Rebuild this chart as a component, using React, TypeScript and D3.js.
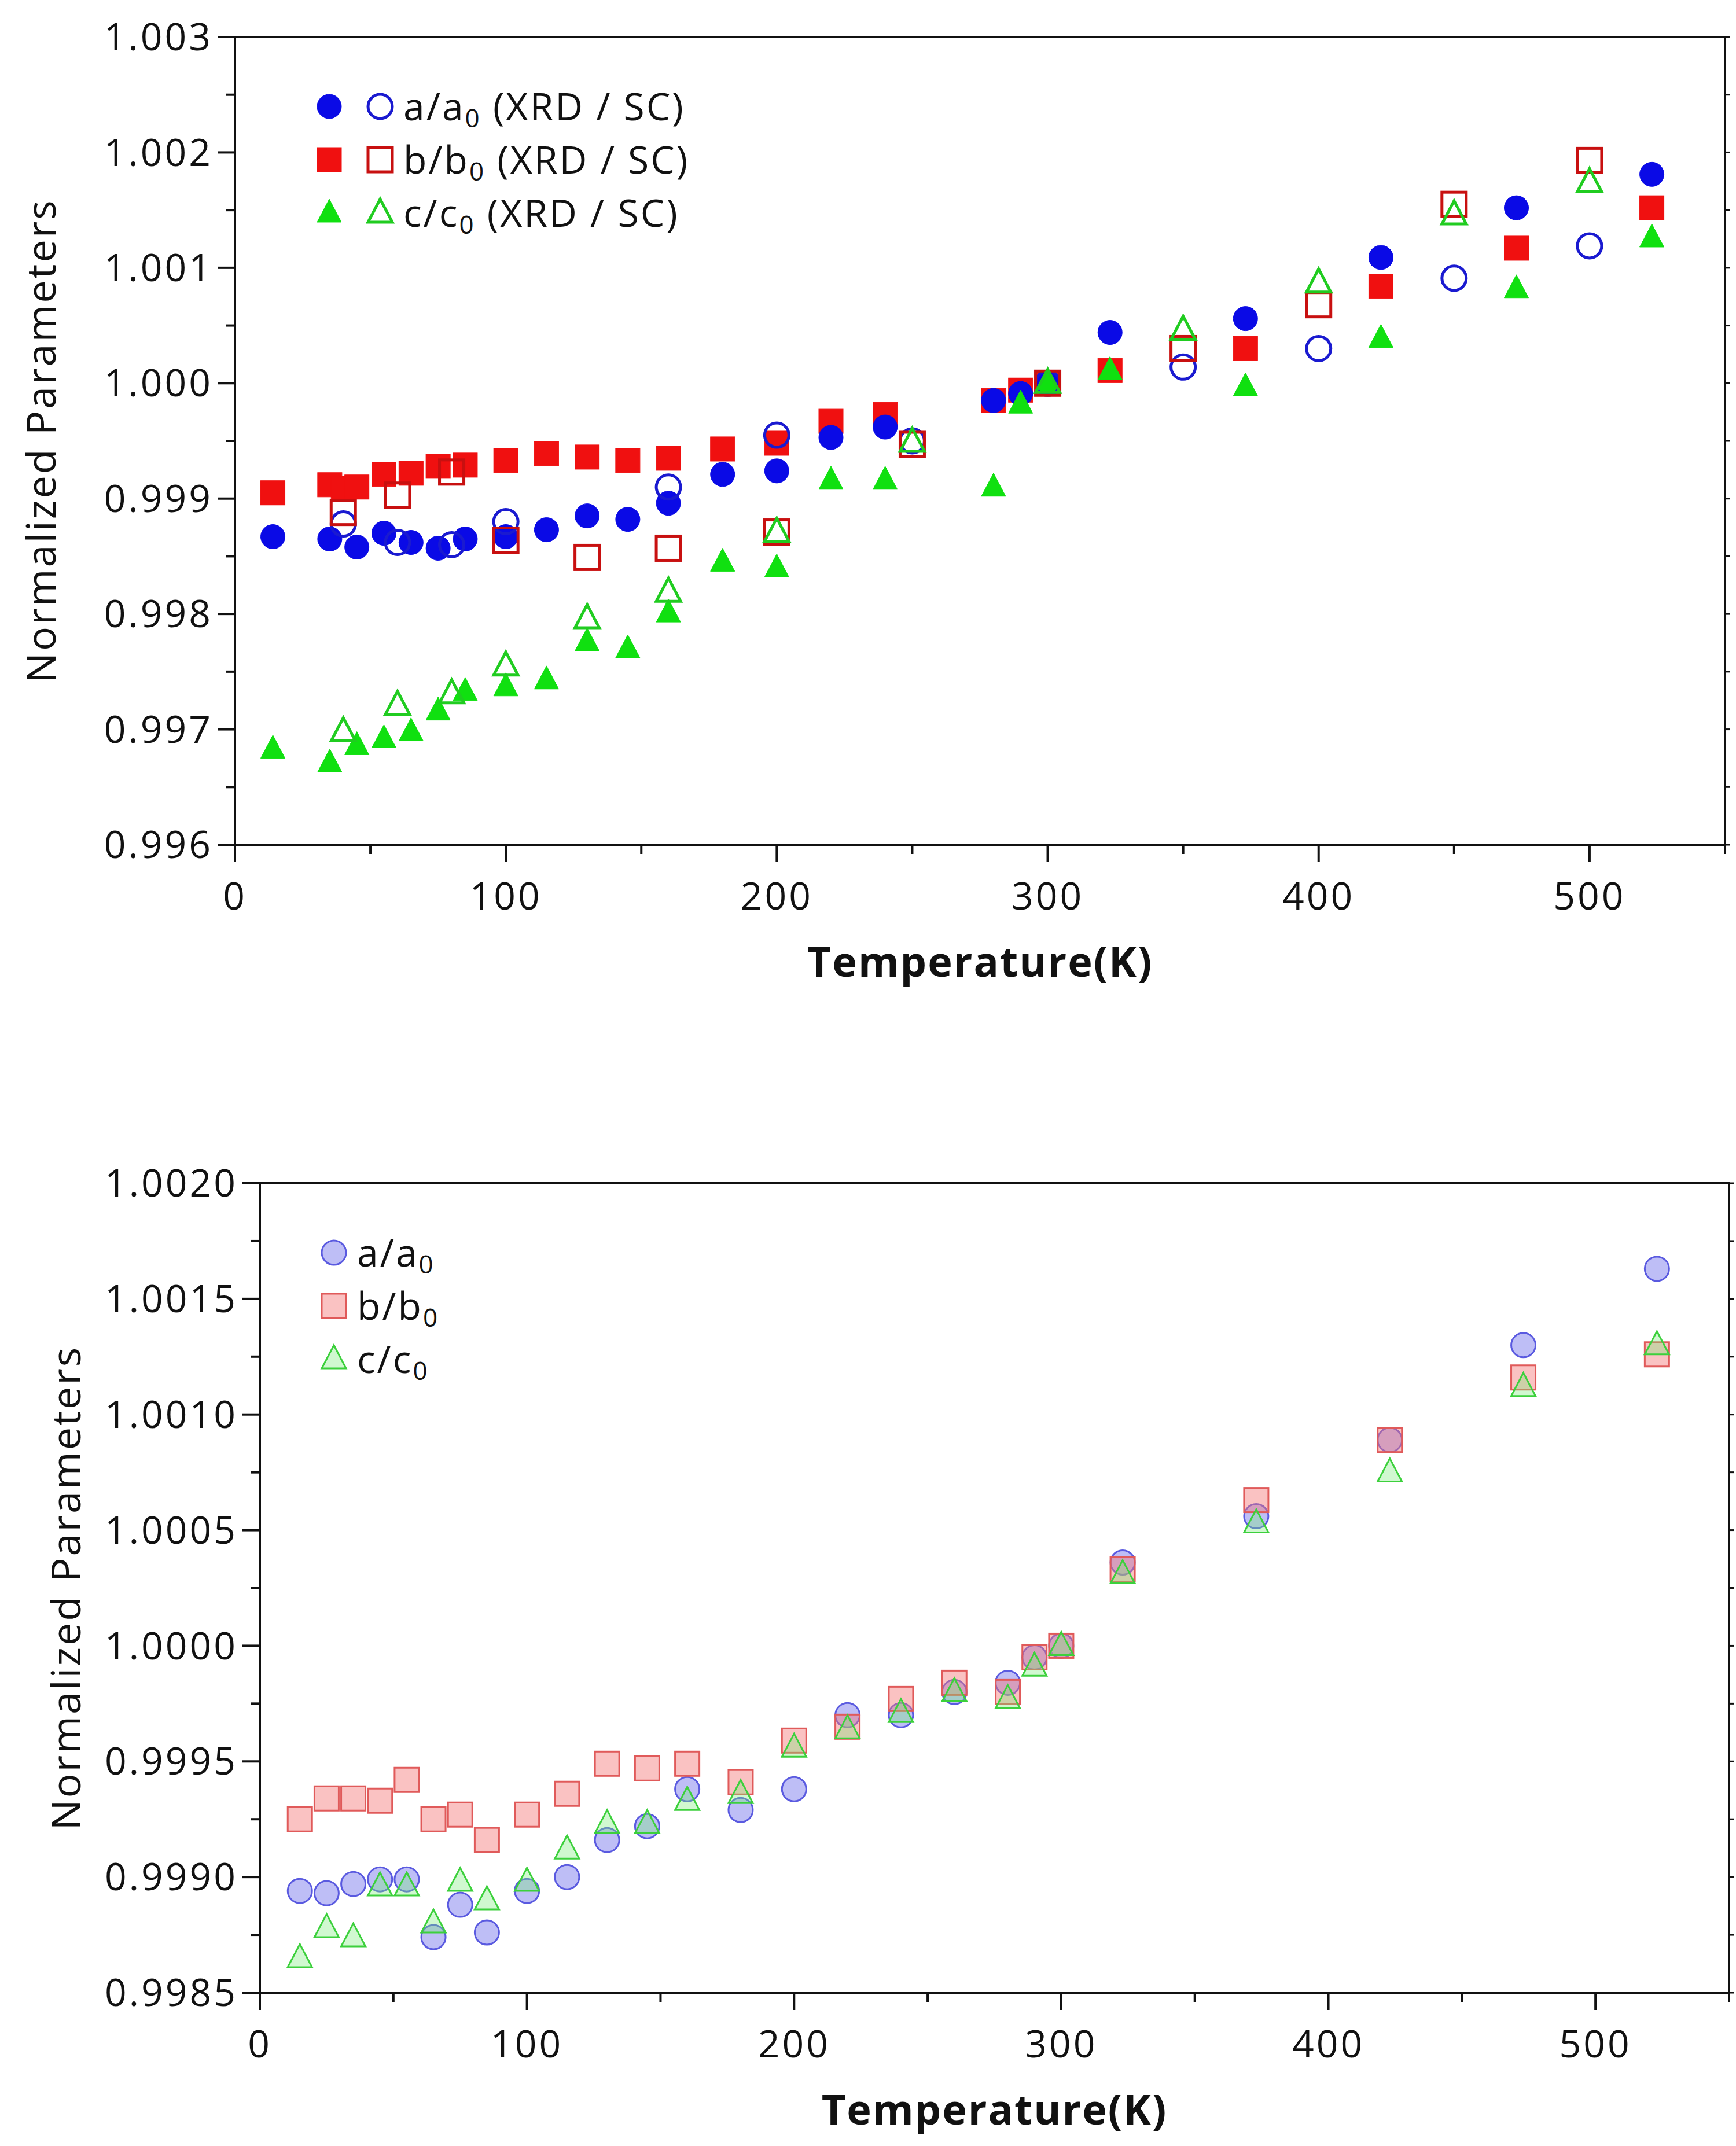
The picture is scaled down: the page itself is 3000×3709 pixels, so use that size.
import * as d3 from "d3";

// top panel: T (K) and normalized values; XRD = filled, SC = open
const aXrdT = [14, 35, 45, 55, 65, 75, 85, 100, 115, 130, 145, 160, 180, 200, 220, 240, 280, 290, 300, 323, 373, 423, 473, 523];
const aXrdV = [0.99867, 0.99865, 0.99858, 0.9987, 0.99862, 0.99857, 0.99865, 0.99867, 0.99873, 0.99885, 0.99882, 0.99896, 0.99921, 0.99924, 0.99953, 0.99962, 0.99985, 0.99991, 1.0, 1.00044, 1.00056, 1.00109, 1.00152, 1.00181];
const aScT = [40, 60, 80, 100, 160, 200, 250, 300, 350, 400, 450, 500];
const aScV = [0.99878, 0.99862, 0.9986, 0.9988, 0.9991, 0.99955, 0.9995, 1.0, 1.00014, 1.0003, 1.00091, 1.00119];
const bXrdT = [14, 35, 40, 45, 55, 65, 75, 85, 100, 115, 130, 145, 160, 180, 200, 220, 240, 280, 290, 300, 323, 373, 423, 473, 523];
const bXrdV = [0.99905, 0.99912, 0.99909, 0.9991, 0.99921, 0.99922, 0.99928, 0.99929, 0.99933, 0.99939, 0.99936, 0.99933, 0.99935, 0.99943, 0.99948, 0.99967, 0.99973, 0.99985, 0.99994, 1.0, 1.00011, 1.0003, 1.00084, 1.00117, 1.00152];
const bScT = [40, 60, 80, 100, 130, 160, 200, 250, 300, 350, 400, 450, 500];
const bScV = [0.99888, 0.99903, 0.99923, 0.99864, 0.99849, 0.99857, 0.99871, 0.99947, 1.0, 1.0003, 1.00068, 1.00155, 1.00193];
const cXrdT = [14, 35, 45, 55, 65, 75, 85, 100, 115, 130, 145, 160, 180, 200, 220, 240, 280, 290, 300, 323, 373, 423, 473, 523];
const cXrdV = [0.99683, 0.99671, 0.99686, 0.99692, 0.99698, 0.99716, 0.99733, 0.99737, 0.99743, 0.99776, 0.9977, 0.99801, 0.99845, 0.9984, 0.99916, 0.99916, 0.9991, 0.99982, 1.0, 1.00011, 0.99997, 1.00039, 1.00082, 1.00126];
const cScT = [40, 60, 80, 100, 130, 160, 200, 250, 300, 350, 400, 450, 500];
const cScV = [0.99698, 0.99721, 0.99731, 0.99755, 0.99796, 0.99819, 0.99871, 0.99949, 1.0, 1.00046, 1.00087, 1.00146, 1.00174];

// bottom panel
const lowT = [15, 25, 35, 45, 55, 65, 75, 85, 100, 115, 130, 145, 160, 180, 200, 220, 240, 260, 280, 290, 300, 323, 373, 423, 473, 523];
const lowA = [0.99894, 0.99893, 0.99897, 0.99899, 0.99899, 0.99874, 0.99888, 0.99876, 0.99894, 0.999, 0.99916, 0.99922, 0.99938, 0.99929, 0.99938, 0.9997, 0.9997, 0.9998, 0.99984, 0.99995, 1.0, 1.00036, 1.00056, 1.00089, 1.0013, 1.00163];
const lowB = [0.99925, 0.99934, 0.99934, 0.99933, 0.99942, 0.99925, 0.99927, 0.99916, 0.99927, 0.99936, 0.99949, 0.99947, 0.99949, 0.99941, 0.99959, 0.99965, 0.99977, 0.99984, 0.9998, 0.99995, 1.0, 1.00033, 1.00063, 1.00089, 1.00116, 1.00126];
const lowC = [0.99865, 0.99878, 0.99874, 0.99896, 0.99896, 0.9988, 0.99898, 0.9989, 0.99898, 0.99912, 0.99923, 0.99923, 0.99933, 0.99936, 0.99956, 0.99964, 0.99971, 0.9998, 0.99977, 0.99991, 1.0, 1.00031, 1.00053, 1.00075, 1.00112, 1.0013];

const topYTicks = [0.996, 0.997, 0.998, 0.999, 1.0, 1.001, 1.002, 1.003];
const lowYTicks = [0.9985, 0.999, 0.9995, 1.0, 1.0005, 1.001, 1.0015, 1.002];
const xTicks = [0, 100, 200, 300, 400, 500];

const FONT = "'Open Sans', 'DejaVu Sans', sans-serif";

type Shape = "circle" | "square" | "triangle";
type Style = { shape: Shape; fill: string; stroke: string; sw: number };

function Marker({ x, y, s, size }: { x: number; y: number; s: Style; size: number }) {
  const r = size / 2;
  if (s.shape === "circle")
    return <circle cx={x} cy={y} r={r} fill={s.fill} stroke={s.stroke} strokeWidth={s.sw} />;
  if (s.shape === "square")
    return <rect x={x - r} y={y - r} width={size} height={size} fill={s.fill} stroke={s.stroke} strokeWidth={s.sw} />;
  const h = size * 0.95;
  return (
    <path
      d={`M${x},${y - h * 0.6}L${x + r},${y + h * 0.4}L${x - r},${y + h * 0.4}Z`}
      fill={s.fill}
      stroke={s.stroke}
      strokeWidth={s.sw}
    />
  );
}

type Series = { t: number[]; v: number[]; style: Style };

function Panel({
  left, right, top, bottom, yDomain, yTicks, yFmt, series, legend, legendX,
}: {
  left: number; right: number; top: number; bottom: number;
  yDomain: [number, number]; yTicks: number[]; yFmt: (d: number) => string;
  series: Series[];
  legend: { styles: Style[]; label: string; sub: string; tail: string }[];
  legendX: number;
}) {
  const x = d3.scaleLinear().domain([0, 550]).range([left, right]);
  const y = d3.scaleLinear().domain(yDomain).range([bottom, top]);
  const step = yTicks[1] - yTicks[0];
  const yMinor = d3.range(yTicks.length - 1).map((i) => yTicks[i] + step / 2);
  const xMinor = [50, 150, 250, 350, 450, 550];
  const ms = 42;
  return (
    <g>
      <rect x={left} y={top} width={right - left} height={bottom - top} fill="none" stroke="#111" strokeWidth={4} />
      {yTicks.map((t) => (
        <g key={"y" + t}>
          <line x1={left - 30} x2={left} y1={y(t)} y2={y(t)} stroke="#111" strokeWidth={4} />
          <text x={left - 38} y={y(t)} dy="0.35em" textAnchor="end" fontSize={66} letterSpacing={4} fontFamily={FONT} fill="#111">
            {yFmt(t)}
          </text>
        </g>
      ))}
      {yMinor.map((t) => (
        <line key={"ym" + t} x1={left - 16} x2={left} y1={y(t)} y2={y(t)} stroke="#111" strokeWidth={4} />
      ))}
      {yTicks.concat(yMinor).map((t) => (
        <line key={"yr" + t} x1={right} x2={right + 8} y1={y(t)} y2={y(t)} stroke="#111" strokeWidth={3} />
      ))}
      {xTicks.map((t) => (
        <g key={"x" + t}>
          <line x1={x(t)} x2={x(t)} y1={bottom} y2={bottom + 30} stroke="#111" strokeWidth={4} />
          <text x={x(t)} y={bottom + 112} textAnchor="middle" fontSize={66} letterSpacing={4} fontFamily={FONT} fill="#111">
            {t}
          </text>
        </g>
      ))}
      {xMinor.map((t) => (
        <line key={"xm" + t} x1={x(t)} x2={x(t)} y1={bottom} y2={bottom + 16} stroke="#111" strokeWidth={4} />
      ))}
      <text x={(left + right) / 2} y={bottom + 228} textAnchor="middle" fontSize={72} fontWeight="bold" letterSpacing={2} fontFamily={FONT} fill="#111">
        Temperature(K)
      </text>
      <text
        transform={`translate(${left - 310},${(top + bottom) / 2}) rotate(-90)`}
        textAnchor="middle"
        fontSize={70}
        letterSpacing={3}
        fontFamily={FONT}
        fill="#111"
      >
        Normalized Parameters
      </text>
      {series.map((s, si) =>
        s.t.map((t, i) => <Marker key={si + "-" + i} x={x(t)} y={y(s.v[i])} s={s.style} size={ms} />)
      )}
      {legend.map((l, i) => {
        const ly = top + 120 + i * 92;
        const lx = left + legendX;
        return (
          <g key={"lg" + i}>
            {l.styles.map((st, k) => (
              <Marker key={k} x={lx + k * 88} y={ly} s={st} size={ms} />
            ))}
            <text x={lx + (l.styles.length - 1) * 88 + 40} y={ly} dy="0.36em" fontSize={66} letterSpacing={3} fontFamily={FONT} fill="#111">
              {l.label}
              <tspan fontSize={44} dy="12">{l.sub}</tspan>
              <tspan dy="-12">{l.tail}</tspan>
            </text>
          </g>
        );
      })}
    </g>
  );
}

const aF: Style = { shape: "circle", fill: "#0a0ae6", stroke: "#0a0ae6", sw: 1 };
const aO: Style = { shape: "circle", fill: "none", stroke: "#1a1ad0", sw: 5 };
const bF: Style = { shape: "square", fill: "#f01010", stroke: "#f01010", sw: 1 };
const bO: Style = { shape: "square", fill: "none", stroke: "#c81010", sw: 5 };
const cF: Style = { shape: "triangle", fill: "#10e010", stroke: "#10e010", sw: 1 };
const cO: Style = { shape: "triangle", fill: "none", stroke: "#20cc20", sw: 5 };

const aL: Style = { shape: "circle", fill: "rgba(110,110,235,0.45)", stroke: "#5a5ae0", sw: 3 };
const bL: Style = { shape: "square", fill: "rgba(245,120,120,0.45)", stroke: "#e05a5a", sw: 3 };
const cL: Style = { shape: "triangle", fill: "rgba(120,235,120,0.35)", stroke: "#3cd03c", sw: 3 };

export default function App() {
  return (
    <svg width={3000} height={3709} style={{ position: "absolute", left: 0, top: 0, background: "#fff" }}>
      <rect width={3000} height={3709} fill="#fff" />
      <Panel
        left={406}
        right={2981}
        top={64}
        bottom={1460}
        yDomain={[0.996, 1.003]}
        yTicks={topYTicks}
        yFmt={(d) => d.toFixed(3)}
        legendX={163}
        series={[
          { t: bXrdT, v: bXrdV, style: bF },
          { t: aXrdT, v: aXrdV, style: aF },
          { t: cXrdT, v: cXrdV, style: cF },
          { t: aScT, v: aScV, style: aO },
          { t: bScT, v: bScV, style: bO },
          { t: cScT, v: cScV, style: cO },
        ]}
        legend={[
          { styles: [aF, aO], label: "a/a", sub: "0", tail: " (XRD / SC)" },
          { styles: [bF, bO], label: "b/b", sub: "0", tail: " (XRD / SC)" },
          { styles: [cF, cO], label: "c/c", sub: "0", tail: " (XRD / SC)" },
        ]}
      />
      <Panel
        left={449}
        right={2988}
        top={2045}
        bottom={3444}
        yDomain={[0.9985, 1.002]}
        yTicks={lowYTicks}
        yFmt={(d) => d.toFixed(4)}
        legendX={128}
        series={[
          { t: lowT, v: lowA, style: aL },
          { t: lowT, v: lowB, style: bL },
          { t: lowT, v: lowC, style: cL },
        ]}
        legend={[
          { styles: [aL], label: "a/a", sub: "0", tail: "" },
          { styles: [bL], label: "b/b", sub: "0", tail: "" },
          { styles: [cL], label: "c/c", sub: "0", tail: "" },
        ]}
      />
    </svg>
  );
}
